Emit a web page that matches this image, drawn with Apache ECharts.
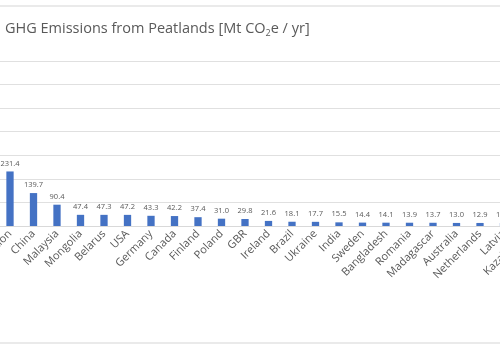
<!DOCTYPE html>
<html>
<head>
<meta charset="utf-8">
<script src="https://cdn.jsdelivr.net/npm/echarts@6/dist/echarts.min.js"></script>
<style>html,body{margin:0;padding:0;background:#fff;}#c{width:500px;height:350px;}</style>
</head>
<body>
<div id="c"></div>
<script>
const categories = ["Russian Federation","China","Malaysia","Mongolia","Belarus","USA","Germany","Canada","Finland","Poland","GBR","Ireland","Brazil","Ukraine","India","Sweden","Bangladesh","Romania","Madagascar","Australia","Netherlands","Latvia","Kazakhstan"];
const emissions = [231.4,139.7,90.4,47.4,47.3,47.2,43.3,42.2,37.4,31.0,29.8,21.6,18.1,17.7,15.5,14.4,14.1,13.9,13.7,13.0,12.9,12.5,12.3];
const yTicks = [0,100,200,300,400,500,600,700];

const chart = echarts.init(document.getElementById('c'), null, {renderer:'canvas'});
chart.setOption({
  animation:false,
  backgroundColor:'#fff',
  title:{
    text:'GHG Emissions from Peatlands [Mt CO{sub|2}e / yr]',
    left:0, top:15,
    textStyle:{fontFamily:'Open Sans',fontSize:14.5,fontWeight:'normal',color:'#595959',
      rich:{sub:{fontFamily:'Open Sans',fontSize:9,color:'#595959',verticalAlign:'bottom',padding:[9,0,0,0]}}}
  },
  graphic:[{type:'rect',shape:{x:-5,y:6,width:510,height:337},style:{fill:'none',stroke:'#e3e3e3',lineWidth:1.5},silent:true,z:0}],
  grid:{left:-1.75,right:-38.75,top:61,bottom:124,containLabel:false,outerBoundsMode:'none'},
  xAxis:{
    type:'category',data:categories,
    axisTick:{show:false},
    axisLine:{lineStyle:{color:'#d9d9d9',width:1}},
    axisLabel:{interval:0,rotate:45,margin:6,fontFamily:'Open Sans',fontSize:11,color:'#595959'}
  },
  yAxis:{
    type:'value',min:yTicks[0],max:yTicks[yTicks.length-1],interval:100,
    axisLabel:{show:false},axisLine:{show:false},axisTick:{show:false},
    splitLine:{lineStyle:{color:'#e0e0e0',width:1}}
  },
  series:[{
    type:'bar',data:emissions,barWidth:7.3,
    itemStyle:{color:'#4472C4'},
    label:{show:true,position:'top',distance:4,fontFamily:'Open Sans',fontSize:7.5,color:'#595959',
      formatter:p=>p.value.toFixed(1)}
  }]
});
</script>
</body>
</html>
